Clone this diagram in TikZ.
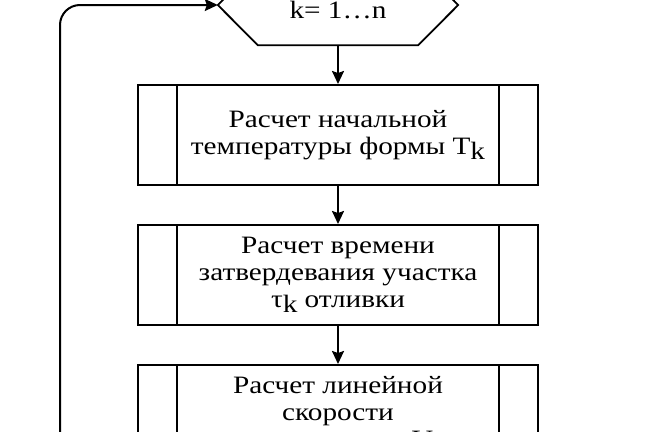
\documentclass[tikz,border=0pt]{standalone}
\usepackage{fontspec}
\setmainfont{Liberation Serif}[FakeStretch=1.17]
\usetikzlibrary{arrows.meta}

\newcommand{\idx}[1]{\raisebox{-5pt}{#1}}

\tikzset{
  procbox/.style={draw, line width=2pt, minimum width=400pt, minimum height=100pt,
    align=center, font=\fontsize{25}{27}\selectfont},
  flow/.style={line width=2pt, -{Stealth[length=13pt,width=12pt,inset=2pt]}},
}

\begin{document}
\begin{tikzpicture}[x=1pt,y=-1pt]
\useasboundingbox (0,0) rectangle (647,431);

% loop header
\node[minimum width=240pt, minimum height=80pt, inner sep=0pt] (cyc) at (338,5) {};
\draw[line width=1.8pt] (cyc.west) -- ([xshift=40pt]cyc.north west) -- ([xshift=-40pt]cyc.north east)
  -- (cyc.east) -- ([xshift=-40pt]cyc.south east) -- ([xshift=40pt]cyc.south west) -- cycle;
\node[anchor=base, font=\fontsize{25}{27}\selectfont] (cyclbl) at (338,18) {k= 1…n};

% steps
\node[procbox] (b1) at (338,135) {Расчет начальной\\температуры формы T\idx{k}};
\node[procbox] (b2) at (338,275) {Расчет времени\\затвердевания участка\\τ\idx{k} отливки};
\node[procbox] (b3) at (338,415) {Расчет линейной\\скорости\\затвердевания V\idx{k}};
\foreach \b in {b1,b2,b3}{
  \draw[line width=2pt] ([xshift=40pt]\b.north west) -- ([xshift=40pt]\b.south west);
  \draw[line width=2pt] ([xshift=-40pt]\b.north east) -- ([xshift=-40pt]\b.south east);
}

\draw[flow] (cyc.south) -- (b1);
\draw[flow] (b1) -- (b2);
\draw[flow] (b2) -- (b3);

% back edge of the loop
\coordinate (back) at (60,445);
\draw[flow, rounded corners=20pt] (back) |- (cyc.west);
\end{tikzpicture}
\end{document}
